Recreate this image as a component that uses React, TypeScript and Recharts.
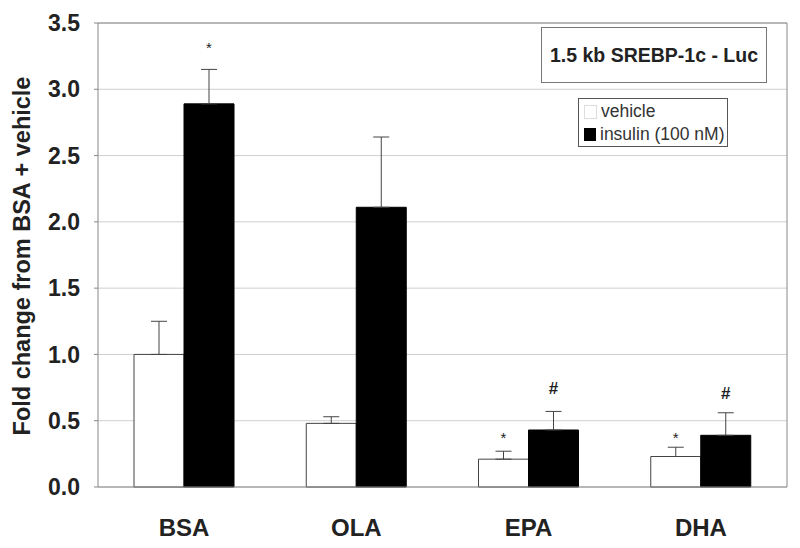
import React from 'react';
import {
  BarChart,
  Bar,
  XAxis,
  YAxis,
  CartesianGrid,
  ErrorBar,
  LabelList,
  ReferenceLine,
} from 'recharts';

const categories = ['BSA', 'OLA', 'EPA', 'DHA'];
const vehicle = [1.0, 0.48, 0.21, 0.23];
const vehicleErr = [0.25, 0.05, 0.06, 0.07];
const insulin = [2.89, 2.11, 0.43, 0.39];
const insulinErr = [0.26, 0.53, 0.14, 0.17];
const vehicleMarks = ['', '', '*', '*'];
const vehicleMarkAt = [0, 0, 0.41, 0.41];
const insulinMarks = ['*', '', '#', '#'];
const insulinMarkAt = [3.35, 0, 0.75, 0.71];
const yTicks = [0, 0.5, 1.0, 1.5, 2.0, 2.5, 3.0, 3.5];

const data = categories.map((name, i) => ({
  name,
  vehicle: vehicle[i],
  vehicleErr: [0, vehicleErr[i]],
  insulin: insulin[i],
  insulinErr: [0, insulinErr[i]],
}));

const FONT = 'Arial, "Liberation Sans", sans-serif';

// draws * / # above the error bars, position in data units
const markRenderer = (marks: string[], at: number[], values: number[]) => (props: any) => {
  const i = props.index;
  const vb = props.viewBox || props;
  if (i == null || !marks[i]) return null;
  const ppu = vb.height / values[i];
  const base = vb.y + vb.height;
  const cy = base - at[i] * ppu;
  const cx = vb.x + vb.width / 2;
  const isStar = marks[i] === '*';
  return (
    <text
      x={cx}
      y={isStar ? cy + 10 : cy + 6}
      textAnchor="middle"
      fontFamily={FONT}
      fontSize={isStar ? 15 : 17}
      fontWeight={isStar ? 400 : 700}
      fill="#222"
    >
      {marks[i]}
    </text>
  );
};

export default function App() {
  return (
    <div style={{ position: 'relative', width: 800, height: 548, background: '#fff', fontFamily: FONT }}>
      <style>{`body{margin:0}`}</style>
      <BarChart
        width={800}
        height={548}
        data={data}
        margin={{ top: 23, right: 12, bottom: 11, left: 0 }}
        barGap={0}
      >
        <CartesianGrid vertical={false} stroke="#cfcfcf" />
        <XAxis
          dataKey="name"
          height={50}
          axisLine={{ stroke: '#888' }}
          tickLine={false}
          tickMargin={26}
          tick={{ fontSize: 24, fontWeight: 700, fill: '#222', fontFamily: FONT }}
        />
        <YAxis
          width={98}
          domain={[0, 3.5]}
          ticks={yTicks}
          tickFormatter={(v: number) => v.toFixed(1)}
          axisLine={{ stroke: '#888' }}
          tickLine={{ stroke: '#888' }}
          tickSize={4}
          tickMargin={14}
          tick={{ fontSize: 23, fontWeight: 700, fill: '#222', fontFamily: FONT }}
          label={{
            content: () => (
              <text
                x={22}
                y={256}
                transform="rotate(-90 22 256)"
                textAnchor="middle"
                dominantBaseline="central"
                fontFamily={FONT}
                fontSize={23.5}
                fontWeight={700}
                fill="#222"
              >
                Fold change from BSA + vehicle
              </text>
            ),
          }}
        />
        <YAxis
          yAxisId="right"
          orientation="right"
          width={1}
          domain={[0, 3.5]}
          tick={false}
          tickLine={false}
          axisLine={{ stroke: '#888' }}
        />
        <ReferenceLine y={3.5} stroke="#888" />
        <Bar dataKey="vehicle" barSize={50} fill="#fff" stroke="#444" strokeWidth={1} isAnimationActive={false}>
          <ErrorBar dataKey="vehicleErr" width={8} stroke="#444" strokeWidth={1} direction="y" />
          <LabelList content={markRenderer(vehicleMarks, vehicleMarkAt, vehicle)} />
        </Bar>
        <Bar dataKey="insulin" barSize={50} fill="#000" stroke="#000" strokeWidth={1} isAnimationActive={false}>
          <ErrorBar dataKey="insulinErr" width={8} stroke="#444" strokeWidth={1} direction="y" />
          <LabelList content={markRenderer(insulinMarks, insulinMarkAt, insulin)} />
        </Bar>
      </BarChart>

      <div
        style={{
          position: 'absolute',
          left: 541,
          top: 27,
          width: 224,
          height: 54,
          border: '1px solid #777',
          display: 'flex',
          alignItems: 'center',
          justifyContent: 'center',
          fontSize: 19.5,
          fontWeight: 700,
          color: '#222',
          background: '#fff',
        }}
      >
        1.5 kb SREBP-1c - Luc
      </div>

      <div
        style={{
          position: 'absolute',
          left: 578,
          top: 98,
          width: 150,
          height: 49,
          border: '1px solid #555',
          background: '#fff',
          fontSize: 17.5,
          color: '#333',
          lineHeight: '23px',
          padding: '1px 0 0 5px',
          boxSizing: 'border-box',
        }}
      >
        <div style={{ display: 'flex', alignItems: 'center' }}>
          <span style={{ width: 11, height: 12, border: '1px solid #ddd', background: '#fff', marginRight: 4 }} />
          vehicle
        </div>
        <div style={{ display: 'flex', alignItems: 'center' }}>
          <span style={{ width: 12, height: 13, background: '#000', marginRight: 4 }} />
          insulin (100 nM)
        </div>
      </div>
    </div>
  );
}
